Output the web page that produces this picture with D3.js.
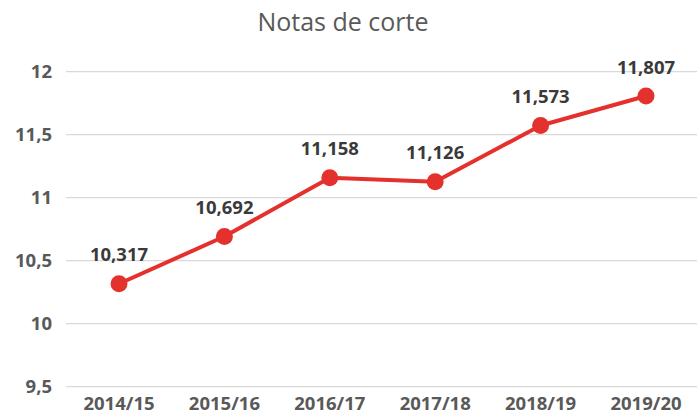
<!DOCTYPE html>
<html>
<head>
<meta charset="utf-8">
<script src="https://cdn.jsdelivr.net/npm/d3@7"></script>
<style>
  body { margin: 0; background: #fff; }
  svg { display: block; font-family: "Open Sans", sans-serif; }
</style>
</head>
<body>
<svg id="chart" width="700" height="414"></svg>
<script>
// Chart data
const seasons = ["2014/15", "2015/16", "2016/17", "2017/18", "2018/19", "2019/20"];
const cutoffs = [10.317, 10.692, 11.158, 11.126, 11.573, 11.807];
const yTicks = [9.5, 10, 10.5, 11, 11.5, 12];

const width = 700, height = 414;
const svg = d3.select("#chart");

const fmt = v => String(v).replace(".", ",");

// Scales
const xScale = d3.scalePoint()
    .domain(seasons)
    .range([66.3, 698.7])
    .padding(0.5);

const yScale = d3.scaleLinear()
    .domain([9.5, 12])
    .range([386.7, 71.7]);

// Title
svg.append("text")
    .attr("x", 343)
    .attr("y", 31)
    .attr("text-anchor", "middle")
    .attr("fill", "#595959")
    .style("font-size", "25px")
    .text("Notas de corte");

// Gridlines
svg.append("g")
    .selectAll("line")
    .data(yTicks)
    .enter()
    .append("line")
    .attr("x1", 66)
    .attr("x2", 697)
    .attr("y1", d => yScale(d))
    .attr("y2", d => yScale(d))
    .attr("stroke", "#d9d9d9")
    .attr("stroke-width", 1.2);

// Y tick labels
svg.append("g")
    .selectAll("text")
    .data(yTicks)
    .enter()
    .append("text")
    .attr("x", 52)
    .attr("y", d => yScale(d) + 6.5)
    .attr("text-anchor", "end")
    .attr("fill", "#595959")
    .style("font-size", "18.5px")
    .style("font-weight", "bold")
    .text(d => fmt(d));

// X tick labels
svg.append("g")
    .selectAll("text")
    .data(seasons)
    .enter()
    .append("text")
    .attr("x", d => xScale(d))
    .attr("y", 410)
    .attr("text-anchor", "middle")
    .attr("fill", "#595959")
    .style("font-size", "18.5px")
    .style("font-weight", "bold")
    .text(d => d);

const points = seasons.map((s, i) => ({ season: s, value: cutoffs[i] }));

// Line
const line = d3.line()
    .x(d => xScale(d.season))
    .y(d => yScale(d.value));

svg.append("path")
    .datum(points)
    .attr("fill", "none")
    .attr("stroke", "#e5312d")
    .attr("stroke-width", 4)
    .attr("stroke-linejoin", "round")
    .attr("d", line);

// Markers
svg.append("g")
    .selectAll("circle")
    .data(points)
    .enter()
    .append("circle")
    .attr("cx", d => xScale(d.season))
    .attr("cy", d => yScale(d.value))
    .attr("r", 8.5)
    .attr("fill", "#e5312d");

// Data labels
svg.append("g")
    .selectAll("text")
    .data(points)
    .enter()
    .append("text")
    .attr("x", d => xScale(d.season))
    .attr("y", d => yScale(d.value) - 22.5)
    .attr("text-anchor", "middle")
    .attr("fill", "#3a3a3a")
    .style("font-size", "18.5px")
    .style("font-weight", "bold")
    .text(d => d3.format(".3f")(d.value).replace(".", ","));
</script>
</body>
</html>
